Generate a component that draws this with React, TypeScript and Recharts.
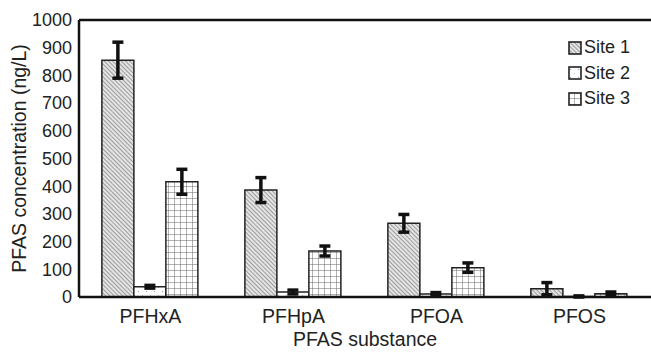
import { BarChart, Bar, XAxis, YAxis, ErrorBar, ReferenceLine, Label } from 'recharts';

const substances = ['PFHxA', 'PFHpA', 'PFOA', 'PFOS'];
const site1 = [855, 386, 266, 30];
const site2 = [37, 18, 11, 2];
const site3 = [416, 166, 106, 12];
const site1Err = [65, 45, 32, 22];
const site2Err = [5, 7, 5, 2];
const site3Err = [45, 18, 17, 6];
const yTicks = [0, 100, 200, 300, 400, 500, 600, 700, 800, 900, 1000];
const seriesNames = ['Site 1', 'Site 2', 'Site 3'];

const data = substances.map((name, i) => ({
	name,
	s1: site1[i],
	s2: site2[i],
	s3: site3[i],
	e1: site1Err[i],
	e2: site2Err[i],
	e3: site3Err[i],
}));

const font = '"Liberation Sans", Arial, sans-serif';
const fills = ['url(#hatch)', 'url(#dots)', 'url(#grid)'];

function LegendBox() {
	return (
		<div style={{ position: 'absolute', left: 568, top: 35, fontFamily: font, fontSize: 18, color: '#222', lineHeight: '25.5px' }}>
			{seriesNames.map((n, i) => (
				<div key={n} style={{ display: 'flex', alignItems: 'center' }}>
					<svg width={14} height={14} style={{ marginRight: 2 }}>
						<rect x={1} y={1} width={12} height={12} fill={fills[i]} stroke="#222" strokeWidth={1.6} />
					</svg>
					{n}
				</div>
			))}
		</div>
	);
}

export default function App() {
	return (
		<div style={{ position: 'absolute', left: 0, top: 0, width: 651, height: 356, background: '#fff' }}>
			<BarChart
				width={651}
				height={356}
				data={data}
				margin={{ top: 20, right: 0, left: 0, bottom: 0 }}
				barCategoryGap="16%"
				barGap={0}>
				<defs>
					<pattern id="hatch" width={3} height={3} patternUnits="userSpaceOnUse" patternTransform="rotate(-45)">
						<rect width={3} height={3} fill="#e4e4e4" />
						<line x1={0} y1={0} x2={0} y2={3} stroke="#777" strokeWidth={1.3} />
					</pattern>
					<pattern id="dots" width={8} height={8} patternUnits="userSpaceOnUse">
						<rect width={8} height={8} fill="#fff" />
						<rect x={2} y={3} width={1} height={1} fill="#999" />
						<rect x={6} y={7} width={1} height={1} fill="#bbb" />
					</pattern>
					<pattern id="grid" width={6} height={6} patternUnits="userSpaceOnUse">
						<rect width={6} height={6} fill="#fff" />
						<line x1={0} y1={0} x2={6} y2={0} stroke="#666" strokeWidth={1} />
						<line x1={0} y1={0} x2={0} y2={6} stroke="#666" strokeWidth={1} />
					</pattern>
				</defs>
				<XAxis
					xAxisId="marks"
					type="number"
					domain={[0, 4]}
					ticks={[1, 2, 3]}
					height={0}
					mirror
					tick={false}
					tickSize={5}
					tickLine={{ stroke: '#111', strokeWidth: 1.5 }}
					axisLine={false}/>
				<XAxis
					xAxisId="cat"
					dataKey="name"
					height={59}
					tickLine={false}
					tickSize={6}
					tickMargin={6}
					axisLine={{ stroke: '#111', strokeWidth: 2.5 }}
					tick={{ fill: '#222', fontSize: 19.5, fontFamily: font }}>
					<Label value="PFAS substance" position="insideBottom" offset={10} fill="#222" fontSize={19.5} fontFamily={font} />
				</XAxis>
				<YAxis
					yAxisId="marks"
					domain={[0, 1000]}
					ticks={yTicks.slice(1, -1)}
					width={0}
					mirror
					tick={false}
					tickSize={4}
					tickLine={{ stroke: '#111', strokeWidth: 1.5 }}
					axisLine={false}/>
				<YAxis
					yAxisId="main"
					width={79}
					domain={[0, 1000]}
					ticks={yTicks}
					interval={0}
					tickLine={false}
					tickSize={5}
					tickMargin={2}
					axisLine={{ stroke: '#111', strokeWidth: 2.5 }}
					tick={{ fill: '#222', fontSize: 18, fontFamily: font }}>
					<Label
						value="PFAS concentration (ng/L)"
						angle={-90}
						position="insideLeft"
						offset={19}
						style={{ textAnchor: 'middle' }}
						fill="#222"
						fontSize={19.5}
						fontFamily={font} />
				</YAxis>
				<ReferenceLine y={1000} xAxisId="cat" yAxisId="main" stroke="#111" strokeWidth={2.5} />
				<Bar dataKey="s1" name="Site 1" xAxisId="cat" yAxisId="main" fill={fills[0]} stroke="#222" strokeWidth={1.5} isAnimationActive={false}>
					<ErrorBar dataKey="e1" width={5.5} strokeWidth={3.5} stroke="#111" direction="y" />
				</Bar>
				<Bar dataKey="s2" name="Site 2" xAxisId="cat" yAxisId="main" fill={fills[1]} stroke="#222" strokeWidth={1.5} isAnimationActive={false}>
					<ErrorBar dataKey="e2" width={5.5} strokeWidth={3.5} stroke="#111" direction="y" />
				</Bar>
				<Bar dataKey="s3" name="Site 3" xAxisId="cat" yAxisId="main" fill={fills[2]} stroke="#222" strokeWidth={1.5} isAnimationActive={false}>
					<ErrorBar dataKey="e3" width={5.5} strokeWidth={3.5} stroke="#111" direction="y" />
				</Bar>
			</BarChart>
			<LegendBox />
		</div>
	);
}
